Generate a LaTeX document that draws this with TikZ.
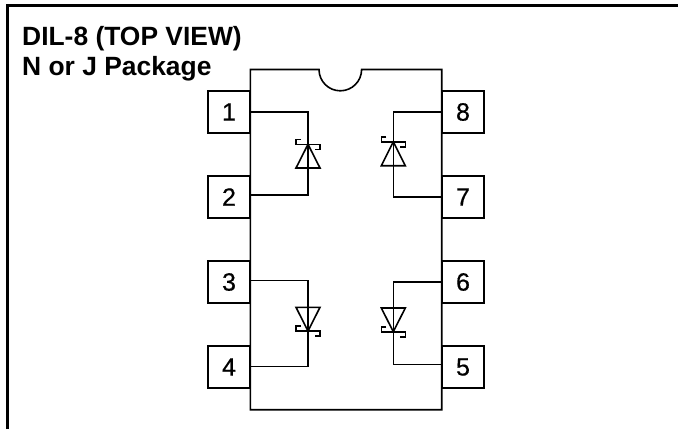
\documentclass[tikz,border=0pt]{standalone}
\usepackage{fontspec}
\setmainfont{Liberation Sans}
\newfontfamily\pinfont[RawFeature={embolden=0.6}]{Liberation Sans}
\begin{document}
\begin{tikzpicture}[x=1pt,y=-1pt,
  pinbox/.style={draw=black,line width=1.6pt,fill=white,minimum width=42.5pt,minimum height=42.5pt,inner sep=0pt,font=\pinfont\fontsize{25}{28}\selectfont},
  wire/.style={draw=black,line width=1.6pt,line join=miter},
  frameline/.style={draw=black,line width=3.1pt},
  heading/.style={font=\bfseries\fontsize{26.4}{30}\selectfont,anchor=base west,inner sep=0pt}]
\useasboundingbox (0,0) rectangle (678,429);
\fill[white] (0,0) rectangle (678,429);
\draw[frameline] (7.3,429) -- (7.3,5.5) -- (678,5.5);
\node[heading] (title1) at (22,45.5) {DIL-8 (TOP VIEW)};
\node[heading] (title2) at (22,75) {N or J Package};
\draw[wire] (250.3,69.5) -- (319,69.5) arc[start angle=180,end angle=0,radius=21.3] -- (441.7,69.5) -- (441.7,409.7) -- (250.3,409.7) -- cycle;
\node[pinbox] (p1) at (229,112) {1};
\node[pinbox] (p2) at (229,197) {2};
\node[pinbox] (p3) at (229,282) {3};
\node[pinbox] (p4) at (229,367) {4};
\node[pinbox] (p8) at (463,112) {8};
\node[pinbox] (p7) at (463,197) {7};
\node[pinbox] (p6) at (463,282) {6};
\node[pinbox] (p5) at (463,367) {5};
\coordinate (d1) at (308,144.3);
\coordinate (d8) at (393.3,141.7);
\coordinate (d3) at (308,331);
\coordinate (d6) at (393.3,331.7);
\tikzset{zenerbar/.style={wire}}
% diode 1
\draw[wire] (p1.east) -| (d1);
\draw[wire] ([yshift=2pt]p2.east) -| ([yshift=23.7pt]d1);
\draw[wire] (d1) -- ++(-12,23.7) -- ++(24,0) -- cycle;
\draw[zenerbar] ([shift={(-7,-5)}]d1) -- ++(-5,0) -- ++(0,5) -- ++(24,0) -- ++(0,5) -- ++(-5,0);
% diode 8
\draw[wire] (p8.west) -| (d8);
\draw[wire] (p7.west) -| ([yshift=24pt]d8);
\draw[wire] (d8) -- ++(-12,24) -- ++(24,0) -- cycle;
\draw[zenerbar] ([shift={(-7,-5)}]d8) -- ++(-5,0) -- ++(0,5) -- ++(24,0) -- ++(0,5) -- ++(-5,0);
% diode 3
\draw[wire] ([yshift=1.7pt]p3.east) -| ([yshift=-23.7pt]d3);
\draw[wire] ([yshift=0.7pt]p4.east) -| (d3);
\draw[wire] (d3) -- ++(-12,-23.7) -- ++(24,0) -- cycle;
\draw[zenerbar] ([shift={(-7,-5)}]d3) -- ++(-5,0) -- ++(0,5) -- ++(24,0) -- ++(0,5) -- ++(-5,0);
% diode 6
\draw[wire] (p6.west) -| ([yshift=-23.7pt]d6);
\draw[wire] ([yshift=2.7pt]p5.west) -| (d6);
\draw[wire] (d6) -- ++(-12,-23.7) -- ++(24,0) -- cycle;
\draw[zenerbar] ([shift={(-7,-5)}]d6) -- ++(-5,0) -- ++(0,5) -- ++(24,0) -- ++(0,5) -- ++(-5,0);
\end{tikzpicture}
\end{document}
